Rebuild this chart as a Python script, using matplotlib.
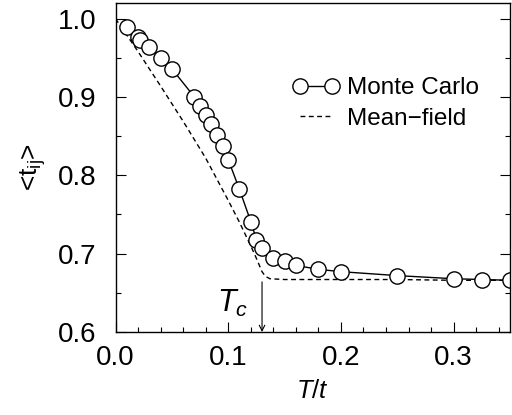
import numpy as np
import matplotlib
matplotlib.use("Agg")
import matplotlib.pyplot as plt
from matplotlib.ticker import MultipleLocator

plt.rcParams['font.family'] = ['Liberation Sans', 'DejaVu Sans']
plt.rcParams['mathtext.fontset'] = 'custom'
plt.rcParams['mathtext.rm'] = 'Liberation Sans'
plt.rcParams['mathtext.it'] = 'Liberation Sans:italic'

# Monte Carlo data
mc_T = [0.01, 0.02, 0.022, 0.03, 0.04, 0.05, 0.07, 0.075, 0.08, 0.085, 0.09,
        0.095, 0.10, 0.11, 0.12, 0.125, 0.13, 0.14, 0.15, 0.16, 0.18, 0.20,
        0.25, 0.30, 0.325, 0.35]
mc_t = [0.989, 0.977, 0.973, 0.964, 0.950, 0.936, 0.900, 0.889, 0.877, 0.865,
        0.852, 0.837, 0.820, 0.782, 0.741, 0.718, 0.707, 0.695, 0.690, 0.685,
        0.680, 0.677, 0.672, 0.668, 0.667, 0.666]

# mean-field curve
mf_T = [0.0, 0.02, 0.04, 0.06, 0.08, 0.10, 0.11, 0.12, 0.125, 0.13, 0.133,
        0.137, 0.15, 0.20, 0.25, 0.30, 0.35]
mf_t = [1.0, 0.958, 0.914, 0.869, 0.822, 0.768, 0.740, 0.710, 0.694, 0.677,
        0.671, 0.668, 0.667, 0.667, 0.667, 0.666, 0.666]

Tc = 0.13

fig = plt.figure(figsize=(5.12, 4.15), dpi=100)
ax = fig.add_axes([0.2256, 0.2, 0.7705, 0.7928])

ax.plot(mf_T, mf_t, color='black', lw=1.0, ls=(0, (3.5, 2.5)), label='Mean\u2212field')
ax.plot(mc_T, mc_t, color='black', lw=1.0, marker='o', markersize=11,
        markerfacecolor='white', markeredgecolor='black', markeredgewidth=1.0,
        label='Monte Carlo')

# arrow marking T_c
ax.annotate('', xy=(Tc, 0.6), xytext=(Tc, 0.664),
            arrowprops=dict(arrowstyle='->', color='black', lw=0.8,
                            shrinkA=0, shrinkB=0))
ax.text(0.1173, 0.626, r'$T_c$', fontsize=22, ha='right', va='baseline')

ax.set_xlim(0.0, 0.35)
ax.set_ylim(0.6, 1.02)
ax.xaxis.set_minor_locator(MultipleLocator(0.02))
ax.yaxis.set_minor_locator(MultipleLocator(0.05))
ax.set_xticks([0.0, 0.1, 0.2, 0.3])
ax.set_xticklabels(['0.0', '0.1', '0.2', '0.3'])
ax.set_yticks([0.6, 0.7, 0.8, 0.9, 1.0])
ax.set_yticklabels(['0.6', '0.7', '0.8', '0.9', '1.0'])
ax.tick_params(which='both', direction='in', right=True, top=False,
               labelsize=20, width=0.8)
ax.tick_params(which='major', length=7)
ax.tick_params(which='minor', length=3.5)
ax.tick_params(axis='y', which='major', pad=14)
ax.tick_params(axis='x', which='major', pad=9)

ax.set_xlabel('$T$/$t$', fontsize=18.5, labelpad=6)
ax.set_ylabel(r'<t$_{\mathrm{ij}}$>', fontsize=19, labelpad=7)

h, l = ax.get_legend_handles_labels()
ax.legend(h[::-1], l[::-1], loc='upper left', bbox_to_anchor=(0.394, 0.841),
          frameon=False, fontsize=17.5, numpoints=2, handlelength=1.92,
          handletextpad=0.3, labelspacing=0.35, borderpad=0.4)

for s in ax.spines.values():
    s.set_linewidth(1.0)

fig.savefig('out.png', dpi=100)
